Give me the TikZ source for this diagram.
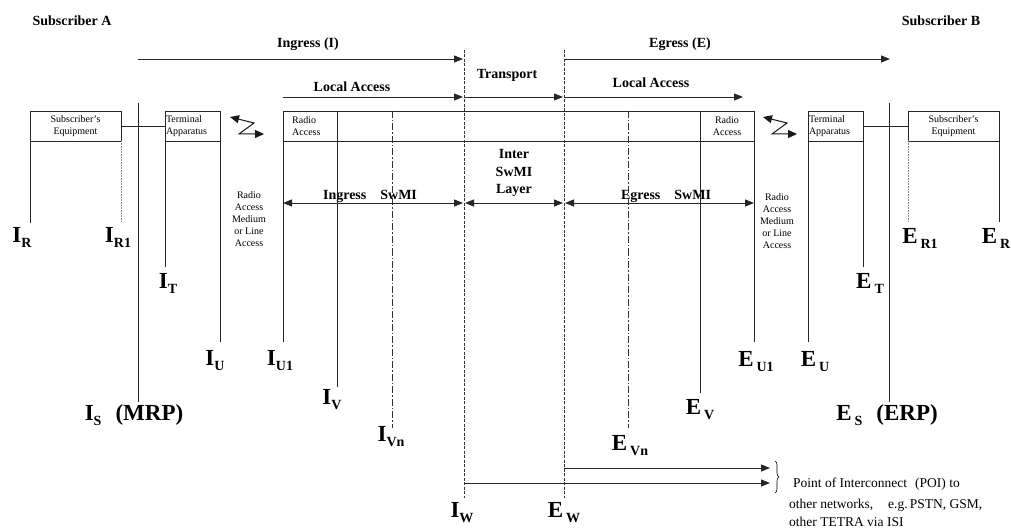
\documentclass[tikz,border=0pt]{standalone}
\usepackage{fontspec}
\setmainfont{Liberation Serif}
\usetikzlibrary{arrows.meta,decorations.pathreplacing}
\newcommand\refI[2]{#1\raisebox{-5pt}{\fontsize{14}{14}\selectfont #2}}
\newcommand\refE[2]{#1\hspace{3pt}\raisebox{-5pt}{\fontsize{14}{14}\selectfont #2}}
\begin{document}
\begin{tikzpicture}[x=1pt,y=-1pt,
  ln/.style={line width=0.9pt, draw=black!85},
  sbox/.style={draw=black!85, line width=0.9pt, inner sep=1pt, outer sep=0pt, font=\fontsize{10}{12}\selectfont, align=center},
  hd/.style={font=\fontsize{14}{17.5}\selectfont\bfseries, inner sep=0pt, align=center},
  small/.style={font=\fontsize{10}{12}\selectfont, align=center, inner sep=0pt},
  lab/.style={inner sep=0pt, font=\fontsize{23}{24}\selectfont\bfseries},
  arr/.style={ln, -{Triangle[length=9pt,width=7pt]}},
  darr/.style={ln, {Triangle[length=9pt,width=7pt]}-{Triangle[length=9pt,width=7pt]}},
  zz/.style={line width=1pt, draw=black!90, {Triangle[length=9pt,width=8pt]}-{Triangle[length=9pt,width=8pt]}},
  wline/.style={line width=0.8pt, draw=black!80, dash pattern=on 3pt off 1.5pt},
  vnline/.style={line width=0.8pt, draw=black!80, dash pattern=on 7pt off 2pt on 1.5pt off 2pt},
  dotl/.style={line width=0.6pt, draw=black!50, densely dotted},
  poi/.style={font=\fontsize{13.5}{13.5}\selectfont, inner sep=0pt, anchor=base west},
]
\fill[white] (0,0) rectangle (1011,529);
\useasboundingbox (0,0) rectangle (1011,529);

% headers
\node[hd] (subA) at (72,21) {Subscriber A};
\node[hd] (subB) at (941,21) {Subscriber B};
\node[hd] (ingT) at (308,44) {Ingress (I)};
\node[hd] (egT) at (680,44) {Egress (E)};
\node[hd] (laL) at (352,87) {Local Access};
\node[hd] (laR) at (651,83) {Local Access};
\node[hd] (trT) at (507,75) {Transport};
\node[hd] (isl) at (514,173) {Inter\\SwMI\\Layer};
\node[hd] (iswT) at (370,196) {Ingress\hspace{14pt}SwMI};
\node[hd] (eswT) at (666,196) {Egress\hspace{14pt}SwMI};

% boxes
\node[sbox, minimum width=91pt, minimum height=30pt] (seA) at (75.5,126) {Subscriber's\\Equipment};
\node[sbox, minimum width=55pt, minimum height=30pt, text width=53pt, align=left] (taA) at (192.5,126) {Terminal\\Apparatus};
\node[sbox, minimum width=471pt, minimum height=30pt] (strip) at (518.5,126) {};
\node[small, align=left, anchor=west] (raA) at (292,126) {Radio\\Access};
\node[small] (raB) at (727,126) {Radio\\Access};
\node[sbox, minimum width=55pt, minimum height=30pt, text width=53pt, align=left] (taB) at (835.5,126) {Terminal\\Apparatus};
\node[sbox, minimum width=91pt, minimum height=30pt] (seB) at (953.5,126) {Subscriber's\\Equipment};

\node[small] (rmA) at (249,219) {Radio\\Access\\Medium\\or Line\\Access};
\node[small] (rmB) at (777,221) {Radio\\Access\\Medium\\or Line\\Access};

% reference point labels
\node[lab] (IR) at (22,237) {\refI{I}{R}};
\node[lab] (IR1) at (118,237) {\refI{I}{R1}};
\node[lab] (IT) at (168,283) {\refI{I}{T}};
\node[lab] (IU) at (215,361) {\refI{I}{U}};
\node[lab] (IU1) at (280,361) {\refI{I}{U1}};
\node[lab] (IV) at (332,400) {\refI{I}{V}};
\node[lab] (IVn) at (391,437) {\refI{I}{Vn}};
\node[lab] (IS) at (134,415) {\refI{I}{S}\hspace{14pt}(MRP)};
\node[lab] (IW) at (462,513) {\refI{I}{W}};
\node[lab] (EW) at (564,513) {\refE{E}{W}};
\node[lab] (EVn) at (630,446) {\refE{E}{Vn}};
\node[lab] (EV) at (700,410) {\refE{E}{V}};
\node[lab] (EU1) at (756,362) {\refE{E}{U1}};
\node[lab] (EU) at (815,362) {\refE{E}{U}};
\node[lab] (ET) at (870,283) {\refE{E}{T}};
\node[lab] (ER1) at (920,238) {\refE{E}{R1}};
\node[lab] (ER) at (996,238) {\refE{E}{R}};
\node[lab] (ES) at (887,415) {\refE{E}{S}\hspace{14pt}(ERP)};

% vertical reference lines
\draw[ln] (seA.south west) -- (30,223) coordinate (eIR);
\draw[dotl] (seA.south east) -- (121,222) coordinate (eIR1);
\draw[ln] (138,103) coordinate (tIS) -- (138,402) coordinate (eIS);
\draw[ln] (seA.east) -- (taA.west);
\draw[ln] (taA.south west) -- (165,267) coordinate (eIT);
\draw[ln] (taA.south east) -- (220,342) coordinate (eIU);
\draw[ln] (strip.south west) -- (283,342) coordinate (eIU1);
\draw[ln] (337,111) coordinate (tIV) -- (337,387) coordinate (eIV);
\draw[vnline] (392,111) coordinate (tIVn) -- (392,428) coordinate (eIVn);
\draw[wline] (464,50) coordinate (tIW) -- (464,498) coordinate (eIW);
\draw[wline] (564,50) coordinate (tEW) -- (564,498) coordinate (eEW);
\draw[vnline] (628,111) coordinate (tEVn) -- (628,428) coordinate (eEVn);
\draw[ln] (700,111) coordinate (tEV) -- (700,393) coordinate (eEV);
\draw[ln] (strip.south east) -- (754,342) coordinate (eEU1);
\draw[ln] (taB.south west) -- (808,342) coordinate (eEU);
\draw[ln] (taB.south east) -- (863,267) coordinate (eET);
\draw[ln] (889,103) coordinate (tES) -- (889,402) coordinate (eES);
\draw[ln] (taB.east) -- (seB.west);
\draw[dotl] (seB.south west) -- (908,222) coordinate (eER1);
\draw[ln] (seB.south east) -- (999,222) coordinate (eER);

% horizontal arrows
\draw[arr] (tIS |- 0,59) -- (463,59) coordinate (hI);
\draw[arr] (tEW |- 0,59) -- (890,59) coordinate (hE);
\draw[arr] (283,97) coordinate (laLs) -- (463,97);
\draw[arr] (464,97) -- (563,97);
\draw[arr] (564,97) -- (743,97) coordinate (laRe);
\draw[darr] (283,203) -- (463,203);
\draw[darr] (465,203) -- (563,203);
\draw[darr] (565,203) -- (754,203);

% radio links
\draw[zz] (230,117) -- (254,123) -- (239,134) -- (264,134);
\draw[zz] (763,117) -- (787,123) -- (772,134) -- (797,134);

% point of interconnect
\draw[arr] (564,468) -- (770,468) coordinate (p1);
\draw[arr] (464,483) -- (770,483) coordinate (p2);
\draw[line width=0.6pt, decorate, decoration={brace, amplitude=4pt}] (775,461) coordinate (b1) -- (775,493) coordinate (b2);
\node[poi] (poi1) at (793,487) {Point of Interconnect\hspace{8pt}(POI) to};
\node[poi] (poi2) at (789,508) {other networks,\hspace{15pt}e.g.\,PSTN, GSM,};
\node[poi] (poi3) at (789,526) {other TETRA via ISI};
\end{tikzpicture}
\end{document}
